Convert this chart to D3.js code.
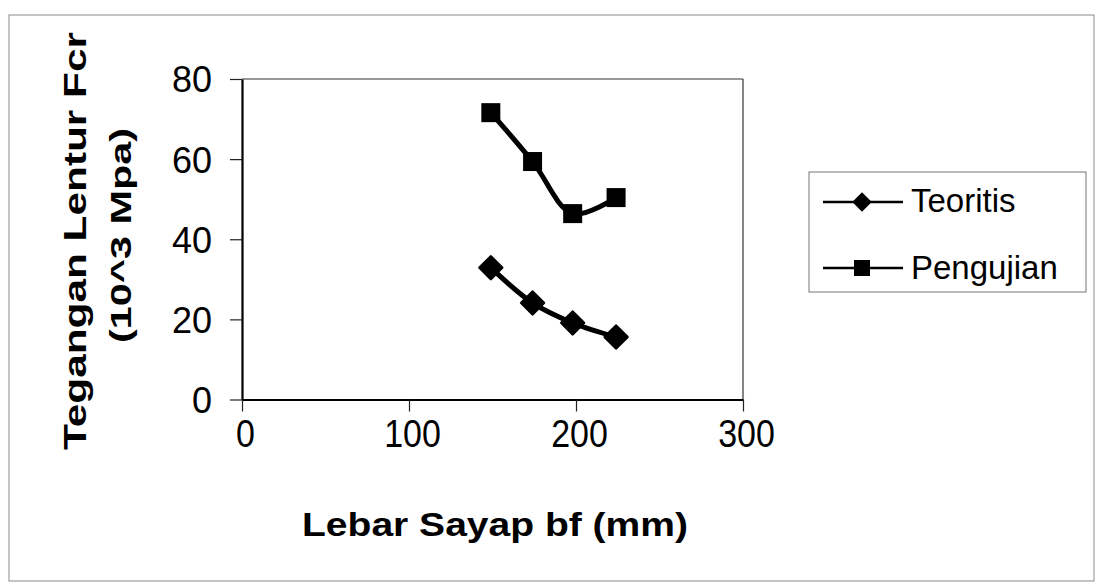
<!DOCTYPE html>
<html><head><meta charset="utf-8">
<script src="https://cdn.jsdelivr.net/npm/d3@7"></script>
<style>html,body{margin:0;padding:0;background:#fff;}svg{display:block;}</style>
</head><body>
<svg id="chart" width="1098" height="583"></svg>
<script>
const bf = [149, 174, 198, 224];
const teoritis = [32.9, 24.1, 19.1, 15.6];
const pengujian = [71.6, 59.4, 46.4, 50.4];
const xTicks = [0, 100, 200, 300];
const yTicks = [0, 20, 40, 60, 80];
const seriesNames = ["Teoritis", "Pengujian"];
const xTitle = "Lebar Sayap bf (mm)";
const yTitle1 = "Tegangan Lentur Fcr";
const yTitle2 = "(10^3 Mpa)";

const svg = d3.select("#chart");
const font = "'Liberation Sans', Arial, sans-serif";

// outer frame
svg.append("rect").attr("x", 9).attr("y", 15).attr("width", 1085).attr("height", 566)
  .attr("fill", "none").attr("stroke", "#8a8a8a").attr("stroke-width", 1);

const x = d3.scaleLinear().domain([0, 300]).range([242, 743]);
const y = d3.scaleLinear().domain([0, 80]).range([399.5, 79]);

// plot frame (top & right)
svg.append("line").attr("x1", x(0)).attr("x2", x(300)).attr("y1", y(80)).attr("y2", y(80))
  .attr("stroke", "#333").attr("stroke-width", 1.2);
svg.append("line").attr("x1", x(300)).attr("x2", x(300)).attr("y1", y(80)).attr("y2", y(0))
  .attr("stroke", "#333").attr("stroke-width", 1.2);

// axes
const gx = svg.append("g").attr("transform", `translate(0,${y(0)})`)
  .call(d3.axisBottom(x).tickValues(xTicks).tickSize(12).tickSizeOuter(0).tickFormat(d3.format("d")));
gx.select(".domain").attr("stroke", "#000").attr("stroke-width", 2.2);
gx.selectAll(".tick line").attr("stroke", "#222").attr("stroke-width", 1.2);
gx.selectAll(".tick text").attr("font-family", font).attr("font-size", 34).attr("fill", "#000")
  .attr("y", 0).attr("dy", 0).attr("transform", "translate(3,47) scale(1,1.15)");

const gy = svg.append("g").attr("transform", `translate(${x(0)},0)`)
  .call(d3.axisLeft(y).tickValues(yTicks).tickSize(12).tickSizeOuter(0).tickFormat(d3.format("d")));
gy.select(".domain").attr("stroke", "#000").attr("stroke-width", 2.2);
gy.selectAll(".tick line").attr("stroke", "#222").attr("stroke-width", 1.2);
gy.selectAll(".tick text").attr("font-family", font).attr("font-size", 36).attr("fill", "#000")
  .attr("x", -30).attr("dy", "0.36em");

// titles
svg.append("text").attr("x", 302).attr("y", 536).attr("font-family", font).attr("font-weight", "bold")
  .attr("font-size", 34).attr("textLength", 386).attr("lengthAdjust", "spacingAndGlyphs").text(xTitle);
svg.append("text").attr("transform", "translate(86,450) rotate(-90)").attr("font-family", font)
  .attr("font-weight", "bold").attr("font-size", 32).attr("textLength", 418)
  .attr("lengthAdjust", "spacingAndGlyphs").text(yTitle1);
svg.append("text").attr("transform", "translate(131,343) rotate(-90)").attr("font-family", font)
  .attr("font-weight", "bold").attr("font-size", 29).attr("textLength", 215)
  .attr("lengthAdjust", "spacingAndGlyphs").text(yTitle2);

// series
const line = d3.line().x(d => x(d[0])).y(d => y(d[1])).curve(d3.curveCatmullRom.alpha(0.5));
const dataT = bf.map((b, i) => [b, teoritis[i]]);
const dataP = bf.map((b, i) => [b, pengujian[i]]);

svg.append("path").datum(dataT).attr("d", line).attr("fill", "none").attr("stroke", "#000").attr("stroke-width", 5);
svg.append("path").datum(dataP).attr("d", line).attr("fill", "none").attr("stroke", "#000").attr("stroke-width", 5);

svg.selectAll(".ptT").data(dataT).enter().append("path")
  .attr("transform", d => `translate(${x(d[0])},${y(d[1])}) rotate(45)`)
  .attr("d", d3.symbol().type(d3.symbolSquare).size(260)).attr("fill", "#000")
  .attr("stroke", "#000").attr("stroke-width", 2.5).attr("stroke-linejoin", "round");
svg.selectAll(".ptP").data(dataP).enter().append("rect")
  .attr("x", d => x(d[0]) - 9.5).attr("y", d => y(d[1]) - 9.5).attr("width", 19).attr("height", 19)
  .attr("fill", "#000");

// legend
svg.append("rect").attr("x", 809).attr("y", 172).attr("width", 277).attr("height", 120)
  .attr("fill", "#fff").attr("stroke", "#777").attr("stroke-width", 1);
const legY = [202, 268];
seriesNames.forEach((name, i) => {
  svg.append("line").attr("x1", 823).attr("x2", 903).attr("y1", legY[i]).attr("y2", legY[i])
    .attr("stroke", "#000").attr("stroke-width", 2.5);
  if (i === 0) {
    svg.append("path").attr("transform", `translate(862,${legY[i]}) rotate(45)`)
      .attr("d", d3.symbol().type(d3.symbolSquare).size(190)).attr("fill", "#000");
  } else {
    svg.append("rect").attr("x", 862 - 8).attr("y", legY[i] - 8).attr("width", 16).attr("height", 16).attr("fill", "#000");
  }
  svg.append("text").attr("x", 911).attr("y", legY[i] + (i === 0 ? 10 : 11)).attr("font-family", font)
    .attr("font-size", 33).attr("fill", "#000").text(name);
});
</script>
</body></html>
